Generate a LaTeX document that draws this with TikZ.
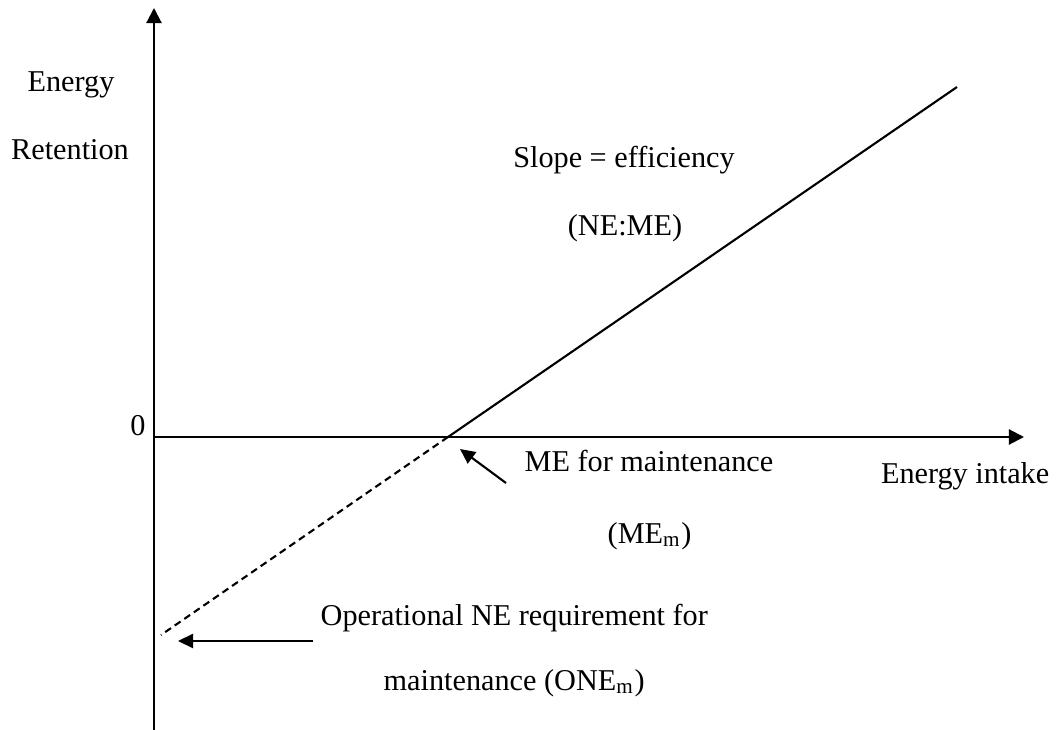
\documentclass[tikz,border=0pt]{standalone}
\usepackage{fontspec}
\setmainfont{Liberation Serif}
\usepackage{tikz}
\usetikzlibrary{arrows.meta}

\begin{document}
\begin{tikzpicture}[x=0.01cm, y=-0.01cm,
    lbl/.style={inner sep=0pt, font=\fontsize{8.6}{10}\selectfont},
    axis/.style={line width=0.6pt, -{Triangle[length=1.5mm, width=1.5mm]}},
    pointer/.style={line width=0.6pt, -{Triangle[length=1.5mm, width=1.4mm]}}]
      \useasboundingbox (0,0) rectangle (1062,730);

      \coordinate (origin) at (154,437);
      \coordinate (ybottom) at (154,730);
      \coordinate (ytop) at (154,8);
      \coordinate (xend) at (1024,437);
      \coordinate (cross) at (448,437);
      \coordinate (lineend) at (957,87);
      \coordinate (dashend) at (161,635);

      \draw[axis] (ybottom) -- (ytop); %draw axes
      \draw[axis] (origin) -- (xend);
      \draw[line width=0.6pt] (cross) -- (lineend); %draw retention line
      \draw[line width=0.6pt, dash pattern=on 2pt off 1.3pt] (cross) -- (dashend);

      %draw labels
      \node[lbl, anchor=base] (energy) at (71,91) {Energy};
      \node[lbl, anchor=base] (retention) at (70,159) {Retention};
      \node[lbl, anchor=base] (zero) at (138,435) {0};
      \node[lbl, anchor=base] (slope) at (624,167) {Slope = efficiency};
      \node[lbl, anchor=base] (neme) at (625,235) {(NE:ME)};
      \node[lbl, anchor=base west] (melabel) at (524,471) {ME for maintenance};
      \node[lbl, anchor=base west] (mem) at (607,543) {(ME\textsubscript{m})};
      \node[lbl, anchor=base east] (intake) at (1050,483) {Energy intake};
      \node[lbl, anchor=base west] (onelabel) at (320,625) {Operational NE requirement for};
      \node[lbl, anchor=base west] (onem) at (383,690) {maintenance (ONE\textsubscript{m})};

      %draw pointers
      \coordinate (metail) at (506,483);
      \coordinate (metip) at (460,449);
      \coordinate (onetail) at (313,641);
      \coordinate (onetip) at (178,641);
      \draw[pointer] (metail) -- (metip);
      \draw[pointer] (onetail) -- (onetip);
    \end{tikzpicture}
\end{document}
